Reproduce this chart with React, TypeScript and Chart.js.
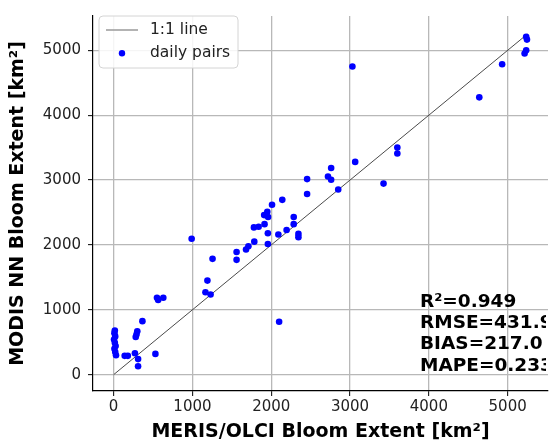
import React, { useEffect, useRef } from "react";
import { Chart, registerables } from "chart.js";
Chart.register(...registerables);

// MERIS/OLCI (x) vs MODIS NN (y) bloom extent, km²
const merisExtent = [
  15, 10, 20, 5, 15, 25, 10, 20, 30, 140, 180, 270, 310, 310, 530, 365, 300, 290, 280,
  550, 565, 630, 990, 1165, 1230, 1190, 1255, 1560, 1560, 1680, 1710, 1785, 1957, 1957,
  1780, 1840, 1915, 1960, 1910, 1950, 2010, 2140, 2090, 2195, 2285, 2285, 2345, 2345, 2100,
  2455, 2455, 2720, 2760, 2760, 2850, 3065, 3425, 3600, 3600, 3030, 4640, 4930, 5215, 5235,
  5235, 5245,
];
const modisExtent = [
  680, 640, 590, 540, 490, 440, 400, 350, 300, 290, 290, 330, 240, 130, 320, 825, 670, 620, 580,
  1185, 1150, 1185, 2095, 1270, 1235, 1450, 1785, 1890, 1770, 1930, 1980, 2050, 2015, 2180,
  2270, 2280, 2320, 2430, 2460, 2510, 2620, 2695, 2160, 2230, 2430, 2320, 2170, 2120, 815,
  3015, 2785, 3055, 3005, 3185, 2855, 3280, 2945, 3500, 3410, 4750, 4275, 4785, 4950, 5000,
  5210, 5165,
];
const oneToOne = [0, 5250];
const xTicks = [0, 1000, 2000, 3000, 4000, 5000];
const yTicks = [0, 1000, 2000, 3000, 4000, 5000];
const legendLabels = ["1:1 line", "daily pairs"];
const statsLines = ["R²=0.949", "RMSE=431.9", "BIAS=217.0", "MAPE=0.233"];
const xTitle = "MERIS/OLCI Bloom Extent [km²]";
const yTitle = "MODIS NN Bloom Extent [km²]";

const FONT = "'DejaVu Sans', sans-serif";
const POINT_COLOR = "#0000ff";
const LINE_COLOR = "#4a4a4a";

const overlayPlugin = {
  id: "overlay",
  afterDraw(chart: any) {
    const { ctx, chartArea } = chart;
    // stats text (clipped at axes)
    ctx.save();
    ctx.beginPath();
    ctx.rect(chartArea.left, chartArea.top, chartArea.right - chartArea.left - 2, chartArea.bottom - chartArea.top);
    ctx.clip();
    ctx.fillStyle = "#000";
    ctx.font = `bold 18.5px ${FONT}`;
    ctx.textAlign = "left";
    ctx.textBaseline = "middle";
    const sx = 420;
    const sy0 = 302;
    statsLines.forEach((t, i) => ctx.fillText(t, sx, sy0 + i * 21.3));
    ctx.restore();

    // legend
    ctx.save();
    const lx = 99, ly = 16, lw = 139, lh = 52, r = 4;
    ctx.beginPath();
    ctx.moveTo(lx + r, ly);
    ctx.lineTo(lx + lw - r, ly);
    ctx.quadraticCurveTo(lx + lw, ly, lx + lw, ly + r);
    ctx.lineTo(lx + lw, ly + lh - r);
    ctx.quadraticCurveTo(lx + lw, ly + lh, lx + lw - r, ly + lh);
    ctx.lineTo(lx + r, ly + lh);
    ctx.quadraticCurveTo(lx, ly + lh, lx, ly + lh - r);
    ctx.lineTo(lx, ly + r);
    ctx.quadraticCurveTo(lx, ly, lx + r, ly);
    ctx.closePath();
    ctx.fillStyle = "rgba(255,255,255,0.85)";
    ctx.fill();
    ctx.strokeStyle = "#d4d4d4";
    ctx.lineWidth = 1;
    ctx.stroke();

    ctx.strokeStyle = "#9a9a9a";
    ctx.lineWidth = 1.5;
    ctx.beginPath();
    ctx.moveTo(106, 30);
    ctx.lineTo(138, 30);
    ctx.stroke();
    ctx.fillStyle = POINT_COLOR;
    ctx.beginPath();
    ctx.arc(122, 53.3, 3.2, 0, Math.PI * 2);
    ctx.fill();
    ctx.fillStyle = "#222";
    ctx.font = `15.5px ${FONT}`;
    ctx.textAlign = "left";
    ctx.textBaseline = "middle";
    ctx.fillText(legendLabels[0], 150, 30);
    ctx.fillText(legendLabels[1], 150, 53.3);
    ctx.restore();
  },
};

export default function App() {
  const ref = useRef<HTMLCanvasElement | null>(null);
  useEffect(() => {
    if (!ref.current) return;
    const points = merisExtent.map((x, i) => ({ x, y: modisExtent[i] }));
    const line = oneToOne.map((v) => ({ x: v, y: v }));
    const tickFmt = (v: any) => String(v);
    const chart = new Chart(ref.current, {
      type: "scatter",
      data: {
        datasets: [
          {
            label: legendLabels[1],
            data: points,
            backgroundColor: POINT_COLOR,
            borderColor: POINT_COLOR,
            borderWidth: 0,
            pointRadius: 3.3,
            order: 0,
          },
          {
            label: legendLabels[0],
            type: "line",
            data: line,
            borderColor: LINE_COLOR,
            borderWidth: 1,
            pointRadius: 0,
            fill: false,
            order: 1,
          } as any,
        ],
      },
      options: {
        animation: false,
        responsive: false,
        maintainAspectRatio: false,
        layout: { padding: { left: 0, right: 2, top: 8, bottom: 0 } },
        plugins: { legend: { display: false }, tooltip: { enabled: false } },
        scales: {
          x: {
            type: "linear",
            min: -262,
            max: 5512,
            afterBuildTicks: (s: any) => {
              s.ticks = xTicks.map((v) => ({ value: v }));
            },
            afterFit: (s: any) => {
              s.height = 55;
            },
            ticks: {
              font: { family: FONT, size: 15 },
              color: "#222",
              padding: 2,
              maxRotation: 0,
              callback: tickFmt,
            },
            grid: {
              color: "#b8b8b8",
              lineWidth: 1.3,
              tickColor: "#000",
              tickLength: 5,
              tickWidth: 1,
            },
            border: { color: "#000", width: 1.2 },
            title: {
              display: true,
              text: xTitle,
              font: { family: FONT, size: 19, weight: "bold" },
              color: "#000",
              padding: { top: 0, bottom: 3 },
            },
          },
          y: {
            type: "linear",
            min: -252,
            max: 5529,
            afterBuildTicks: (s: any) => {
              s.ticks = yTicks.map((v) => ({ value: v }));
            },
            afterFit: (s: any) => {
              s.width = 93;
            },
            ticks: {
              font: { family: FONT, size: 15 },
              color: "#222",
              padding: 7,
              callback: tickFmt,
            },
            grid: {
              color: "#b8b8b8",
              lineWidth: 1.3,
              tickColor: "#000",
              tickLength: 5,
              tickWidth: 1,
            },
            border: { color: "#000", width: 1.2 },
            title: {
              display: true,
              text: yTitle,
              font: { family: FONT, size: 19, weight: "bold" },
              color: "#000",
              padding: { top: 7, bottom: 0 },
            },
          },
        },
      },
      plugins: [overlayPlugin],
    });
    return () => chart.destroy();
  }, []);
  return (
    <div style={{ position: "absolute", left: 0, top: 0, width: 552, height: 446, background: "#fff" }}>
      <canvas ref={ref} width={552} height={446} style={{ width: 552, height: 446 }} />
    </div>
  );
}
